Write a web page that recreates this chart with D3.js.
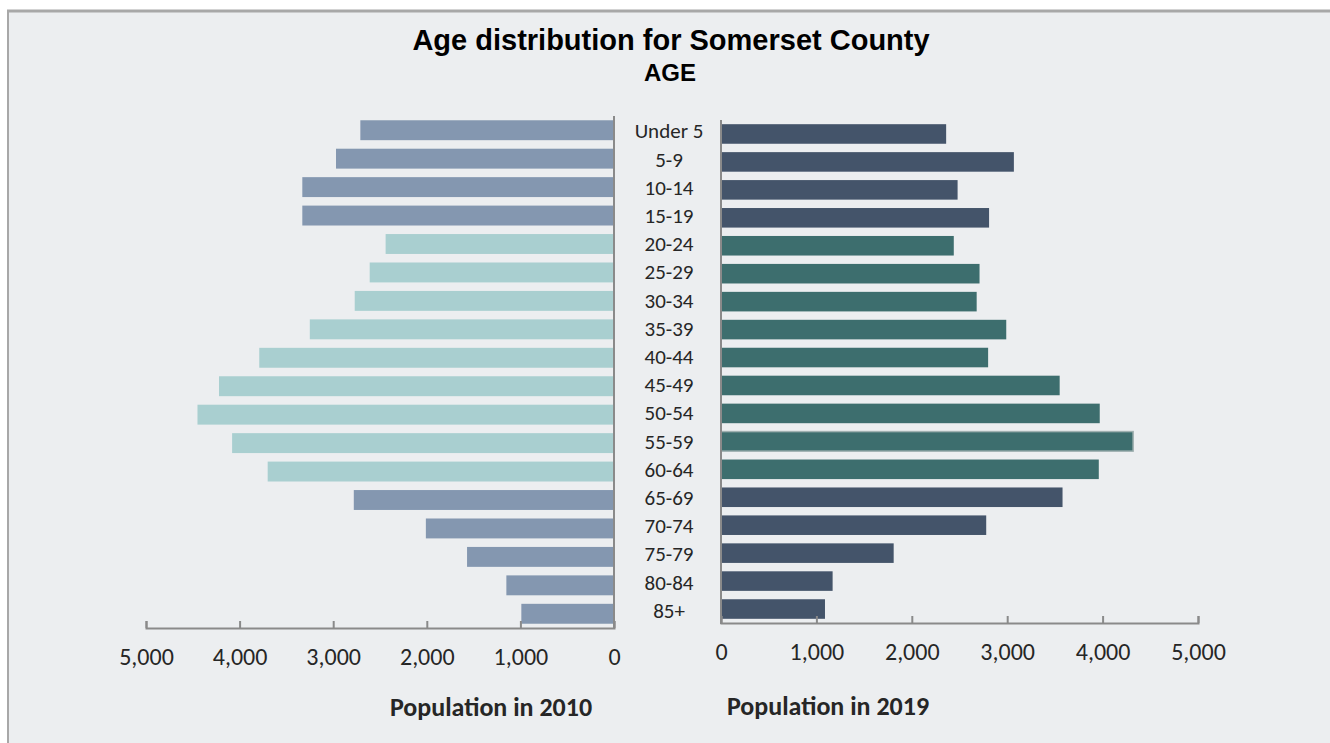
<!DOCTYPE html>
<html lang="en">
<head>
    <meta charset="UTF-8">
    <script src="https://d3js.org/d3.v7.min.js"></script>
    <style>
        body {
            margin: 0;
            background-color: #ffffff;
            overflow: hidden;
        }
        svg {
            display: block;
        }
        .title {
            font-family: 'Liberation Sans', Arial, sans-serif;
            font-weight: 700;
            fill: #000;
        }
        .age-label, .tick text {
            font-family: Carlito, 'Open Sans', 'Noto Sans', sans-serif;
            fill: #262626;
        }
        .axis-title {
            font-family: Carlito, 'Open Sans', 'Noto Sans', sans-serif;
            font-weight: 700;
            fill: #262626;
        }
    </style>
</head>
<body>
    <svg id="chart" width="1330" height="743"></svg>

    <script>
        // age groups, top to bottom
        const ages = ["Under 5", "5-9", "10-14", "15-19", "20-24", "25-29", "30-34", "35-39",
            "40-44", "45-49", "50-54", "55-59", "60-64", "65-69", "70-74", "75-79", "80-84", "85+"];

        // groups drawn in the teal shade
        const workingAges = ["20-24", "25-29", "30-34", "35-39", "40-44", "45-49", "50-54", "55-59", "60-64"];

        const pop2010 = [2710, 2970, 3330, 3330, 2440, 2610, 2770, 3250,
            3790, 4220, 4450, 4080, 3700, 2780, 2010, 1570, 1150, 990];

        const pop2019 = [2360, 3070, 2480, 2810, 2440, 2710, 2680, 2990,
            2800, 3550, 3970, 4320, 3960, 3580, 2780, 1810, 1170, 1090];

        const tickValues = [0, 1000, 2000, 3000, 4000, 5000];

        const svg = d3.select("#chart");

        // background panel with border on top and left
        svg.append("rect")
            .attr("x", 8).attr("y", 11)
            .attr("width", 1330).attr("height", 743)
            .attr("fill", "#eceef0");
        svg.append("line")
            .attr("x1", 7).attr("x2", 1330).attr("y1", 11).attr("y2", 11)
            .attr("stroke", "#a8a8a8").attr("stroke-width", 3);
        svg.append("line")
            .attr("x1", 8).attr("x2", 8).attr("y1", 10).attr("y2", 743)
            .attr("stroke", "#a8a8a8").attr("stroke-width", 2);

        svg.append("text").attr("class", "title")
            .attr("x", 671).attr("y", 50)
            .attr("text-anchor", "middle")
            .style("font-size", "29px")
            .text("Age distribution for Somerset County");
        svg.append("text").attr("class", "title")
            .attr("x", 670).attr("y", 81)
            .attr("text-anchor", "middle")
            .style("font-size", "24px")
            .text("AGE");

        const colorOf = (age, side) => {
            const teal = workingAges.includes(age);
            if (side === "left") return teal ? "#a9cfd0" : "#8497b0";
            return teal ? "#3d6e6e" : "#44546a";
        };

        // left panel (2010)
        const yLeft = d3.scaleBand().domain(ages).range([116, 628]).paddingInner(0.3).paddingOuter(0.15);
        const xLeft = d3.scaleLinear().domain([0, 5000]).range([614, 146]);

        svg.append("g").selectAll("rect")
            .data(ages)
            .join("rect")
            .attr("x", (d, i) => xLeft(pop2010[i]))
            .attr("y", d => yLeft(d))
            .attr("width", (d, i) => xLeft(0) - xLeft(pop2010[i]))
            .attr("height", yLeft.bandwidth())
            .attr("fill", d => colorOf(d, "left"));

        const axLeft = svg.append("g")
            .attr("transform", "translate(0,628)")
            .call(d3.axisTop(xLeft).tickValues(tickValues).tickSize(7).tickFormat(""));
        axLeft.select(".domain").attr("stroke", "#8a8a8a").attr("stroke-width", 2);
        axLeft.selectAll(".tick line").attr("stroke", "#8a8a8a").attr("stroke-width", 2);

        svg.append("g").attr("transform", "translate(0,628)")
            .call(d3.axisBottom(xLeft).tickValues(tickValues).tickSize(0).tickPadding(20).tickFormat(d3.format(",")))
            .call(g => g.select(".domain").remove())
            .selectAll("text").style("font-size", "24px");

        svg.append("line")
            .attr("x1", xLeft(0)).attr("x2", xLeft(0))
            .attr("y1", 116).attr("y2", 629)
            .attr("stroke", "#8a8a8a").attr("stroke-width", 2);

        // right panel (2019)
        const yRight = d3.scaleBand().domain(ages).range([120, 623]).paddingInner(0.3).paddingOuter(0.15);
        const xRight = d3.scaleLinear().domain([0, 5000]).range([721, 1198]);

        svg.append("g").selectAll("rect")
            .data(ages)
            .join("rect")
            .attr("x", xRight(0))
            .attr("y", d => yRight(d))
            .attr("width", (d, i) => xRight(pop2019[i]) - xRight(0))
            .attr("height", yRight.bandwidth())
            .attr("fill", d => colorOf(d, "right"))
            .attr("stroke", d => d === "55-59" ? "#9fb0b0" : "none")
            .attr("stroke-width", 1.5);

        const axRight = svg.append("g")
            .attr("transform", "translate(0,623)")
            .call(d3.axisTop(xRight).tickValues(tickValues).tickSize(7).tickFormat(""));
        axRight.select(".domain").attr("stroke", "#8a8a8a").attr("stroke-width", 2);
        axRight.selectAll(".tick line").attr("stroke", "#8a8a8a").attr("stroke-width", 2);

        svg.append("g").attr("transform", "translate(0,623)")
            .call(d3.axisBottom(xRight).tickValues(tickValues).tickSize(0).tickPadding(20).tickFormat(d3.format(",")))
            .call(g => g.select(".domain").remove())
            .selectAll("text").style("font-size", "24px");

        svg.append("line")
            .attr("x1", xRight(0)).attr("x2", xRight(0))
            .attr("y1", 120).attr("y2", 624)
            .attr("stroke", "#8a8a8a").attr("stroke-width", 2);

        // age labels in the middle
        svg.append("g").selectAll("text")
            .data(ages)
            .join("text")
            .attr("class", "age-label")
            .attr("x", 669)
            .attr("y", d => (yLeft(d) + yRight(d)) / 2 + (yLeft.bandwidth() + yRight.bandwidth()) / 4 - 1)
            .attr("dy", "0.35em")
            .attr("text-anchor", "middle")
            .style("font-size", "21px")
            .text(d => d);

        // axis titles
        svg.append("text").attr("class", "axis-title")
            .attr("x", 491).attr("y", 716)
            .attr("text-anchor", "middle")
            .style("font-size", "26px")
            .text("Population in 2010");
        svg.append("text").attr("class", "axis-title")
            .attr("x", 828).attr("y", 715)
            .attr("text-anchor", "middle")
            .style("font-size", "26px")
            .text("Population in 2019");
    </script>
</body>
</html>
